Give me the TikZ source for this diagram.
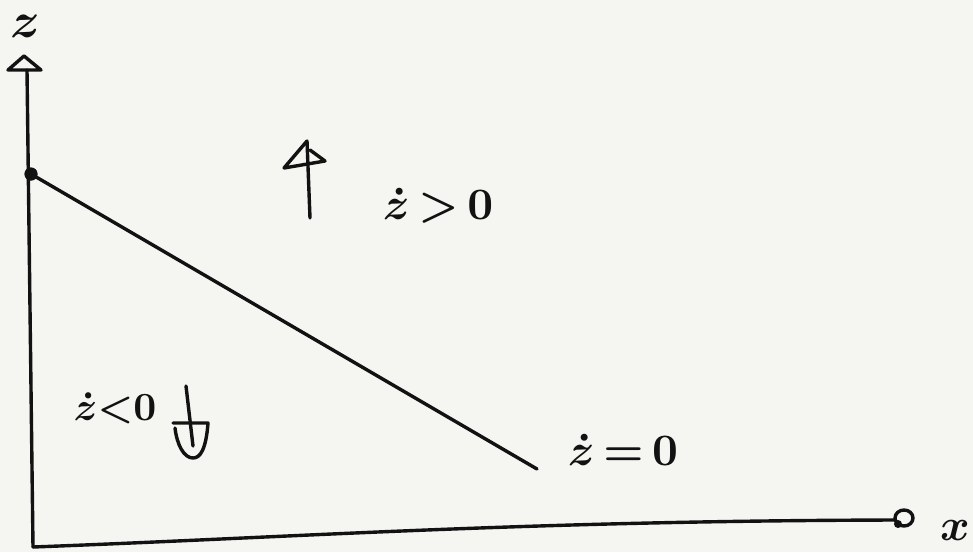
\documentclass[tikz,border=0pt]{standalone}
\usepackage{amsmath}
\usepackage{graphicx}
\definecolor{paper}{RGB}{245,245,242}
\definecolor{inkc}{RGB}{18,18,18}
\begin{document}
\begin{tikzpicture}[x=1pt,y=-1pt,
  ink/.style={line width=3.4pt, line cap=round, line join=round, draw=inkc},
  lbl/.style={inner sep=0pt, text=inkc},
  dotnode/.style={circle, fill=inkc, inner sep=0pt, minimum size=13pt}]
\fill[paper] (0,0) rectangle (973,552);
\useasboundingbox (0,0) rectangle (973,552);
% axes
\coordinate (O) at (33,547);
\coordinate (ZT) at (27,70);
\coordinate (XE) at (895,520);
\coordinate (Q) at (537,469);
\draw[ink] (O) -- (ZT);
\draw[ink] (ZT) -- (8,70) -- (24,56) -- (41,70) -- cycle;
\draw[ink] (O) .. controls (300,537) and (520,521) .. (XE);
\draw[ink] (904,518) ellipse [x radius=9, y radius=8];
\fill[inkc] (898,524) circle (4);
\node[lbl] (zl) at (25,26) {\scalebox{5}{\boldmath$z$}};
\node[lbl] (xl) at (955,530) {\scalebox{4.5}{\boldmath$x$}};
% nullcline
\node[dotnode] (P) at (31,174) {};
\draw[ink] (P.center) -- (Q);
\fill[inkc] (P.center) circle (6.5);
% up arrow
\coordinate (UA) at (310,218);
\coordinate (UB) at (307,141);
\draw[ink] (UA) -- (UB);
\draw[ink] (UB) -- (284,168) -- (325,161) -- (310,150);
% down arrow
\coordinate (DA) at (186,386);
\coordinate (DB) at (193,446);
\draw[ink] (DA) -- (DB);
\draw[ink] (173,423) -- (208,423) .. controls (206,450) and (200,458) .. (193,458) .. controls (184,458) and (177,445) .. (175,428);
% labels
\node[lbl] (up) at (438,206) {\scalebox{4.5}{\boldmath$\dot z\,{>}\,0$}};
\node[lbl] (down) at (115,408) {\scalebox{4}{\boldmath$\dot z{<}0$}};
\node[lbl] (null) at (623,450) {\scalebox{4.5}{\boldmath$\dot z\,{=}\,0$}};
\end{tikzpicture}
\end{document}
